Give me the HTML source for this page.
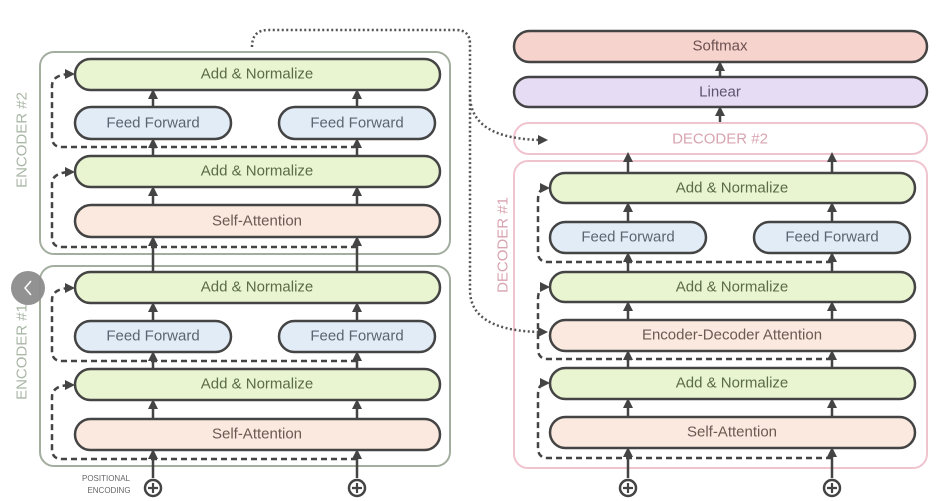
<!DOCTYPE html>
<html><head><meta charset="utf-8"><style>
html,body{margin:0;padding:0;background:#fff;}
svg{display:block;font-family:"Liberation Sans","DejaVu Sans",sans-serif;}
.b{stroke:#444;stroke-width:2.5;}
.t{font-size:15px;text-anchor:middle;dominant-baseline:central;}
.a{stroke:#444;stroke-width:2.5;fill:none;}
.d{stroke:#444;stroke-width:2.5;fill:none;stroke-dasharray:6,4;}
.o{stroke:#555;stroke-width:2.5;fill:none;stroke-dasharray:2,2.5;}
</style></head><body>
<svg width="939" height="501" viewBox="0 0 939 501" xmlns="http://www.w3.org/2000/svg">
<defs>
<marker id="ar" markerWidth="10" markerHeight="10" refX="7" refY="5" orient="auto" markerUnits="userSpaceOnUse"><path d="M0,0 L10,5 L0,10 Z" fill="#444"/></marker>
</defs>
<rect width="939" height="501" fill="#fff"/>

<rect x="40" y="52" width="410" height="202" rx="14" fill="none" stroke="#a3ae9f" stroke-width="2"/>
<rect x="40" y="266" width="410" height="200" rx="14" fill="none" stroke="#a3ae9f" stroke-width="2"/>
<text transform="translate(22,140) rotate(-90)" class="t" fill="#a9b7a6" font-size="13">ENCODER #2</text>
<text transform="translate(22,352) rotate(-90)" class="t" fill="#a9b7a6" font-size="13">ENCODER #1</text>

<rect x="514" y="123" width="413" height="31" rx="15" fill="none" stroke="#f0c4cf" stroke-width="2"/>
<text x="720" y="139" class="t" fill="#d8a3b0">DECODER #2</text>
<rect x="514" y="161" width="413" height="307" rx="14" fill="none" stroke="#f0c4cf" stroke-width="2"/>
<text transform="translate(503,245) rotate(-90)" class="t" fill="#d8a3b0" font-size="13">DECODER #1</text>

<g class="a" marker-end="url(#ar)">
<line x1="153" y1="478" x2="153" y2="452"/><line x1="357" y1="478" x2="357" y2="452"/>
<line x1="153" y1="418" x2="153" y2="402"/><line x1="357" y1="418" x2="357" y2="402"/>
<line x1="153" y1="369" x2="153" y2="354"/><line x1="357" y1="369" x2="357" y2="354"/>
<line x1="153" y1="320" x2="153" y2="305"/><line x1="357" y1="320" x2="357" y2="305"/>
<line x1="153" y1="271" x2="153" y2="239"/><line x1="357" y1="271" x2="357" y2="239"/>
<line x1="153" y1="204" x2="153" y2="189"/><line x1="357" y1="204" x2="357" y2="189"/>
<line x1="153" y1="156" x2="153" y2="141"/><line x1="357" y1="156" x2="357" y2="141"/>
<line x1="153" y1="106" x2="153" y2="92"/><line x1="357" y1="106" x2="357" y2="92"/>
</g>
<g class="a" marker-end="url(#ar)">
<line x1="628" y1="478" x2="628" y2="450"/><line x1="832" y1="478" x2="832" y2="450"/>
<line x1="628" y1="416" x2="628" y2="401"/><line x1="832" y1="416" x2="832" y2="401"/>
<line x1="628" y1="367" x2="628" y2="353"/><line x1="832" y1="367" x2="832" y2="353"/>
<line x1="628" y1="319" x2="628" y2="304"/><line x1="832" y1="319" x2="832" y2="304"/>
<line x1="628" y1="271" x2="628" y2="255"/><line x1="832" y1="271" x2="832" y2="255"/>
<line x1="628" y1="221" x2="628" y2="205"/><line x1="832" y1="221" x2="832" y2="205"/>
<line x1="628" y1="172" x2="628" y2="155"/><line x1="832" y1="172" x2="832" y2="155"/>
<line x1="720" y1="122" x2="720" y2="109"/>
<line x1="720" y1="76" x2="720" y2="64"/>
</g>

<g class="d" marker-end="url(#ar)">
<path d="M357,247 H62 Q52,247 52,237 V184 Q52,172 72,172"/>
<path d="M357,147 H62 Q52,147 52,137 V86 Q52,74 72,74"/>
<path d="M357,459 H62 Q52,459 52,449 V397 Q52,385 72,385"/>
<path d="M357,361 H62 Q52,361 52,351 V300 Q52,288 72,288"/>
<path d="M832,458 H548 Q538,458 538,448 V395 Q538,383 547,383"/>
<path d="M832,359 H548 Q538,359 538,349 V299 Q538,287 547,287"/>
<path d="M832,262 H548 Q538,262 538,252 V200 Q538,188 547,188"/>
</g>

<g class="o" marker-end="url(#ar)">
<path d="M252,47 Q252,30 268,30 H456 Q470,30 470,44 V290 Q470,332 545,332"/>
<path d="M470,95 Q470,140 545,140"/>
</g>

<g class="b">
<rect x="75" y="59" width="365" height="31" rx="15.5" fill="#e9f5d1"/>
<rect x="75" y="107" width="156" height="32" rx="16" fill="#e2ecf7"/>
<rect x="279" y="107" width="156" height="32" rx="16" fill="#e2ecf7"/>
<rect x="75" y="156" width="365" height="31" rx="15.5" fill="#e9f5d1"/>
<rect x="75" y="205" width="365" height="32" rx="16" fill="#fbe9df"/>
<rect x="75" y="272" width="365" height="31" rx="15.5" fill="#e9f5d1"/>
<rect x="75" y="321" width="156" height="31" rx="15.5" fill="#e2ecf7"/>
<rect x="279" y="321" width="156" height="31" rx="15.5" fill="#e2ecf7"/>
<rect x="75" y="369" width="365" height="31" rx="15.5" fill="#e9f5d1"/>
<rect x="75" y="419" width="365" height="31" rx="15.5" fill="#fbe9df"/>
</g>
<g class="t" fill="#5a5a5a">
<text x="257" y="74" fill="#5b6b45">Add &amp; Normalize</text>
<text x="153" y="123" fill="#5a6570">Feed Forward</text>
<text x="357" y="123" fill="#5a6570">Feed Forward</text>
<text x="257" y="171" fill="#5b6b45">Add &amp; Normalize</text>
<text x="257" y="221" fill="#6b5a52">Self-Attention</text>
<text x="257" y="287" fill="#5b6b45">Add &amp; Normalize</text>
<text x="153" y="336" fill="#5a6570">Feed Forward</text>
<text x="357" y="336" fill="#5a6570">Feed Forward</text>
<text x="257" y="384" fill="#5b6b45">Add &amp; Normalize</text>
<text x="257" y="434" fill="#6b5a52">Self-Attention</text>
</g>

<g class="b">
<rect x="514" y="31" width="413" height="31" rx="15.5" fill="#f7d3cd"/>
<rect x="514" y="77" width="413" height="30" rx="15" fill="#e6dcf4"/>
<rect x="550" y="173" width="365" height="30" rx="15" fill="#e9f5d1"/>
<rect x="550" y="222" width="156" height="31" rx="15.5" fill="#e2ecf7"/>
<rect x="754" y="222" width="156" height="31" rx="15.5" fill="#e2ecf7"/>
<rect x="550" y="272" width="365" height="30" rx="15" fill="#e9f5d1"/>
<rect x="550" y="320" width="365" height="31" rx="15.5" fill="#fbe9df"/>
<rect x="550" y="368" width="365" height="31" rx="15.5" fill="#e9f5d1"/>
<rect x="550" y="417" width="365" height="31" rx="15.5" fill="#fbe9df"/>
</g>
<g class="t">
<text x="720" y="46" fill="#6b5050">Softmax</text>
<text x="720" y="92" fill="#5d5570">Linear</text>
<text x="732" y="188" fill="#5b6b45">Add &amp; Normalize</text>
<text x="628" y="237" fill="#5a6570">Feed Forward</text>
<text x="832" y="237" fill="#5a6570">Feed Forward</text>
<text x="732" y="287" fill="#5b6b45">Add &amp; Normalize</text>
<text x="732" y="335" fill="#6b5a52">Encoder-Decoder Attention</text>
<text x="732" y="383" fill="#5b6b45">Add &amp; Normalize</text>
<text x="732" y="432" fill="#6b5a52">Self-Attention</text>
</g>

<g stroke="#444" stroke-width="2.5" fill="#fff">
<circle cx="153" cy="488" r="8"/><circle cx="357" cy="488" r="8"/>
<circle cx="628" cy="488" r="8"/><circle cx="832" cy="488" r="8"/>
</g>
<g stroke="#444" stroke-width="2.2">
<path d="M148,488 H158 M153,483 V493"/><path d="M352,488 H362 M357,483 V493"/>
<path d="M623,488 H633 M628,483 V493"/><path d="M827,488 H837 M832,483 V493"/>
</g>
<text x="106" y="481" font-size="8" fill="#666" text-anchor="middle">POSITIONAL</text>
<text x="109" y="493" font-size="8" fill="#666" text-anchor="middle">ENCODING</text>

<circle cx="28" cy="288" r="17" fill="#8c8c8c" opacity="0.95"/>
<path d="M31,281 L25,288 L31,295" stroke="#fff" stroke-width="1.5" fill="none"/>
</svg>
</body></html>
